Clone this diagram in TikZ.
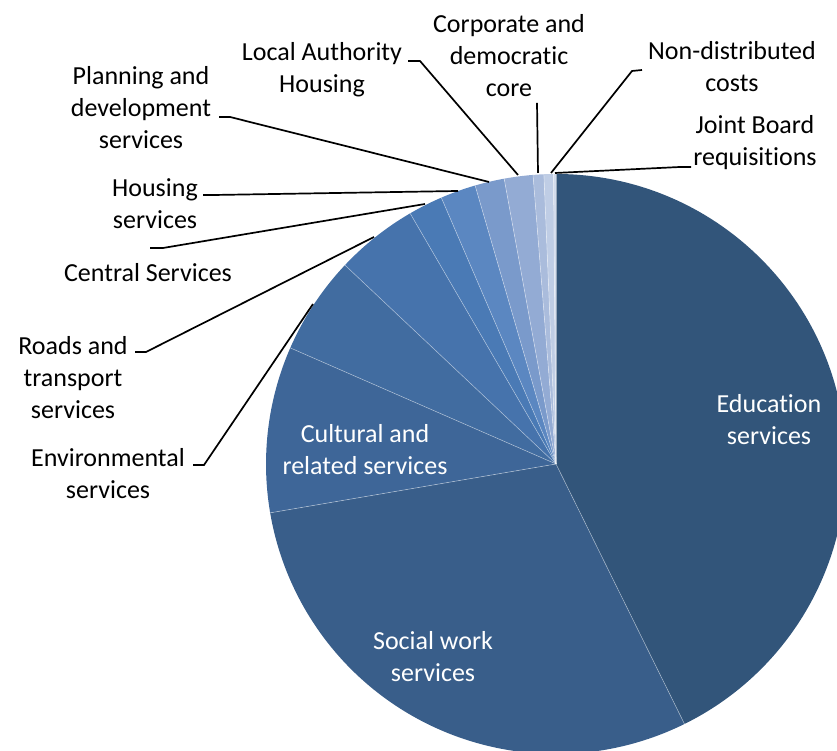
\documentclass[tikz,border=0pt]{standalone}
\usepackage{fontspec}
\setmainfont{Carlito}[Ligatures=NoCommon]

\definecolor{edublue}{HTML}{32557A}
\definecolor{socblue}{HTML}{395E8A}
\definecolor{cultblue}{HTML}{3E6698}
\definecolor{envblue}{HTML}{416CA0}
\definecolor{roadblue}{HTML}{4673AC}
\definecolor{centblue}{HTML}{4A7AB5}
\definecolor{housblue}{HTML}{5B87C1}
\definecolor{planblue}{HTML}{7A9ACB}
\definecolor{lahblue}{HTML}{93ABD4}
\definecolor{corpblue}{HTML}{AABCDC}
\definecolor{ndcblue}{HTML}{BFCDE5}
\definecolor{jbrblue}{HTML}{D3DCEC}

\begin{document}
\begin{tikzpicture}[x=1pt,y=1pt]
  \tikzstyle{lbl} = [inner sep=0pt, align=center, text=black,
  font=\fontsize{26}{32}\selectfont];
  \tikzstyle{inlbl} = [lbl, text=white];
  \tikzstyle{lead} = [line width=1.7pt, color=black];
  \tikzstyle{sep} = [line width=0.6pt, color=white, opacity=0.45];

  \useasboundingbox (0,0) rectangle (837,751);
  \clip (0,0) rectangle (837,751);

  \coordinate (c) at (556,287);

  % slices, clockwise from the top
  \foreach \a/\b/\col in {90/-63.7/edublue, -63.7/-170.3/socblue,
    -170.3/-203.6/cultblue, -203.6/-223.3/envblue, -223.3/-239.8/roadblue,
    -239.8/-246.7/centblue, -246.7/-253.8/housblue, -253.8/-259.7/planblue,
    -259.7/-265.45/lahblue, -265.45/-267.6/corpblue, -267.6/-269.5/ndcblue,
    -269.5/-270/jbrblue}
    \fill[\col] (c) -- ++(\a:290) arc[start angle=\a, end angle=\b, radius=290] -- cycle;

  \foreach \a in {90,-63.7,-170.3,-203.6,-223.3,-239.8,-246.7,-253.8,-259.7,
    -265.45,-267.6,-269.5}
    \draw[sep] (c) -- ++(\a:290);

  % labels inside
  \node[inlbl] (edu) at (769,331) {Education\\services};
  \node[inlbl] (soc) at (433,94) {Social work\\services};
  \node[inlbl] (cult) at (365,301) {Cultural and\\related services};

  % labels outside
  \node[lbl] (env) at (108,277) {Environmental\\services};
  \node[lbl] (road) at (73,373) {Roads and\\transport\\services};
  \node[lbl] (cent) at (148,478) {Central Services};
  \node[lbl] (hous) at (155,547) {Housing\\services};
  \node[lbl] (plan) at (141,643) {Planning and\\development\\services};
  \node[lbl] (lah) at (322,681) {Local Authority\\Housing};
  \node[lbl] (corp) at (509,695) {Corporate and\\democratic\\core};
  \node[lbl] (ndc) at (732,684) {Non-distributed\\costs};
  \node[lbl] (jbr) at (755,608) {Joint Board\\requisitions};

  % leader points
  \coordinate (env-t) at (313,447);  \coordinate (env-k) at (204,286);  \coordinate (env-e) at (193,286);
  \coordinate (road-t) at (374,514); \coordinate (road-k) at (146,399); \coordinate (road-e) at (135,399);
  \coordinate (cent-t) at (425,547); \coordinate (cent-k) at (163,503); \coordinate (cent-e) at (150,503);
  \coordinate (hous-t) at (458,560); \coordinate (hous-k) at (214,556); \coordinate (hous-e) at (203,556);
  \coordinate (plan-t) at (489,569); \coordinate (plan-k) at (230,634); \coordinate (plan-e) at (219,634);
  \coordinate (lah-t) at (518,576);  \coordinate (lah-k) at (420,690);  \coordinate (lah-e) at (408,690);
  \coordinate (corp-t) at (538,578); \coordinate (corp-e) at (537,648);
  \coordinate (ndc-t) at (551,578);  \coordinate (ndc-k) at (632,680);  \coordinate (ndc-e) at (642,681);
  \coordinate (jbr-t) at (555,578);  \coordinate (jbr-k) at (680,584);  \coordinate (jbr-e) at (691,584);

  \draw[lead] (env-e) -- (env-k) -- (env-t);
  \draw[lead] (road-e) -- (road-k) -- (road-t);
  \draw[lead] (cent-e) -- (cent-k) -- (cent-t);
  \draw[lead] (hous-e) -- (hous-k) -- (hous-t);
  \draw[lead] (plan-e) -- (plan-k) -- (plan-t);
  \draw[lead] (lah-e) -- (lah-k) -- (lah-t);
  \draw[lead] (corp-e) -- (corp-t);
  \draw[lead] (ndc-e) -- (ndc-k) -- (ndc-t);
  \draw[lead] (jbr-e) -- (jbr-k) -- (jbr-t);
\end{tikzpicture}
\end{document}
